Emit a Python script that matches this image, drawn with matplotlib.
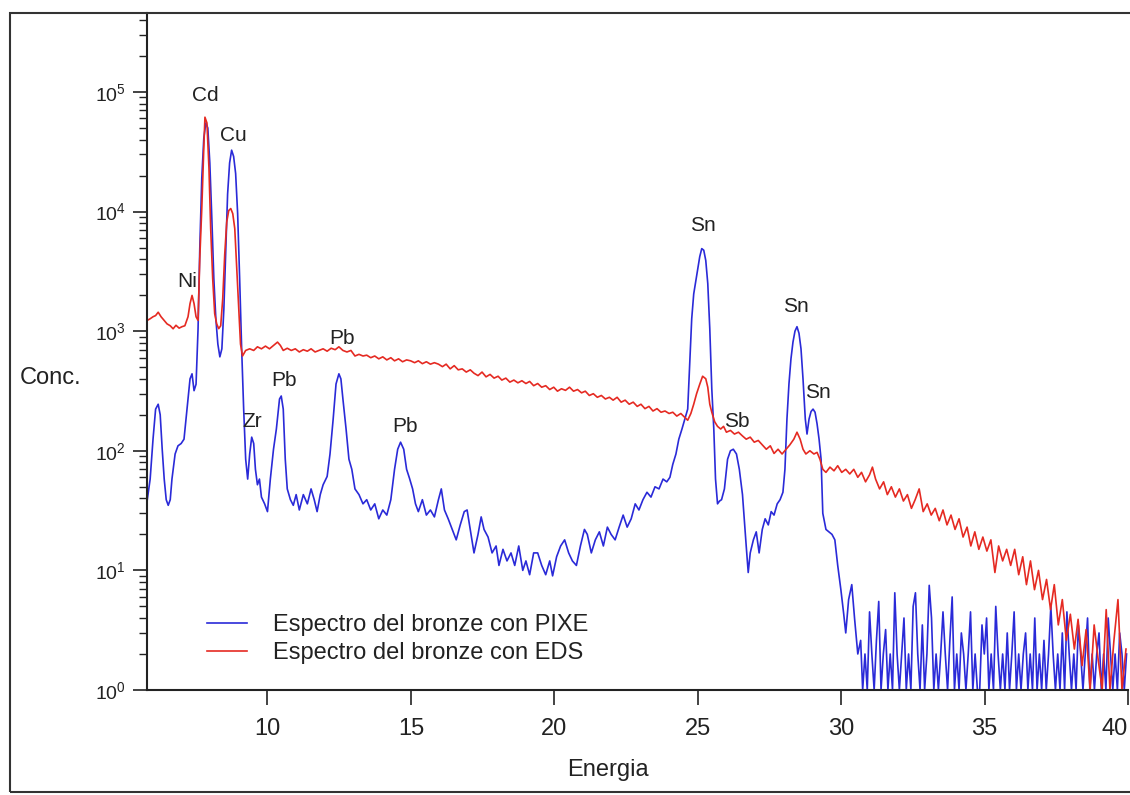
import matplotlib
matplotlib.use("Agg")
import matplotlib.pyplot as plt
from matplotlib.patches import Rectangle
from matplotlib.ticker import LogLocator

plt.rcParams['font.family'] = ['Liberation Sans', 'DejaVu Sans']

# PIXE spectrum (energy in keV, counts)
pixe_e = [5.81, 5.91, 6.01, 6.10, 6.19, 6.26, 6.33, 6.40, 6.47, 6.54, 6.61, 6.67, 6.78, 6.88, 6.99,
          7.09, 7.16, 7.23, 7.30, 7.37, 7.44, 7.51, 7.58, 7.64, 7.71, 7.78, 7.85, 7.92, 7.99, 8.06,
          8.13, 8.20, 8.27, 8.34, 8.41, 8.48, 8.55, 8.61, 8.68, 8.75, 8.82, 8.89, 8.96, 9.03, 9.10,
          9.17, 9.24, 9.31, 9.38, 9.45, 9.52, 9.58, 9.65, 9.72, 9.79, 9.90, 10.00, 10.10, 10.21, 10.31,
          10.42, 10.48, 10.55, 10.62, 10.69, 10.80, 10.90, 11.00, 11.11, 11.25, 11.39, 11.52, 11.63, 11.73, 11.84,
          11.94, 12.08, 12.18, 12.29, 12.39, 12.49, 12.56, 12.63, 12.74, 12.84, 12.94, 13.05, 13.19, 13.33, 13.46,
          13.60, 13.74, 13.88, 14.02, 14.16, 14.30, 14.43, 14.54, 14.64, 14.75, 14.85, 14.95, 15.06, 15.16, 15.26,
          15.40, 15.54, 15.68, 15.82, 15.96, 16.06, 16.17, 16.30, 16.44, 16.58, 16.72, 16.86, 16.96, 17.07, 17.20,
          17.34, 17.45, 17.55, 17.69, 17.83, 17.97, 18.07, 18.21, 18.35, 18.49, 18.62, 18.76, 18.90, 19.01, 19.14,
          19.28, 19.42, 19.56, 19.70, 19.84, 19.94, 20.08, 20.22, 20.36, 20.50, 20.63, 20.77, 20.91, 21.05, 21.15,
          21.29, 21.43, 21.57, 21.71, 21.85, 21.98, 22.12, 22.26, 22.40, 22.54, 22.68, 22.82, 22.95, 23.09, 23.23,
          23.37, 23.51, 23.65, 23.79, 23.92, 24.03, 24.13, 24.24, 24.34, 24.45, 24.55, 24.65, 24.72, 24.79, 24.86,
          24.93, 25.00, 25.07, 25.14, 25.21, 25.28, 25.35, 25.42, 25.49, 25.56, 25.62, 25.69, 25.76, 25.83, 25.93,
          26.04, 26.14, 26.24, 26.35, 26.45, 26.56, 26.62, 26.69, 26.76, 26.83, 26.94, 27.04, 27.14, 27.25, 27.35,
          27.46, 27.56, 27.66, 27.77, 27.87, 27.97, 28.04, 28.11, 28.18, 28.25, 28.32, 28.39, 28.46, 28.53, 28.60,
          28.67, 28.75, 28.81, 28.88, 28.95, 29.02, 29.09, 29.16, 29.23, 29.30, 29.36, 29.47, 29.57, 29.68, 29.78,
          29.88, 29.99, 30.09, 30.16, 30.26, 30.37, 30.47, 30.58, 30.68, 30.75,
          30.83, 30.91, 30.99, 31.07, 31.15, 31.23, 31.31, 31.39, 31.47, 31.55, 31.63, 31.71, 31.79, 31.87, 31.95,
          32.03, 32.11, 32.19, 32.27, 32.35, 32.43, 32.51, 32.59, 32.67, 32.75, 32.83, 32.91, 32.99, 33.07, 33.15,
          33.23, 33.31, 33.39, 33.47, 33.55, 33.63, 33.71, 33.79, 33.87, 33.95, 34.03, 34.11, 34.19, 34.27, 34.35,
          34.43, 34.51, 34.59, 34.67, 34.75, 34.83, 34.91, 34.99, 35.07, 35.15, 35.23, 35.31, 35.39, 35.47, 35.55,
          35.63, 35.71, 35.79, 35.87, 35.95, 36.03, 36.11, 36.19, 36.27, 36.35, 36.43, 36.51, 36.59, 36.67, 36.75,
          36.83, 36.91, 36.99, 37.07, 37.15, 37.23, 37.31, 37.39, 37.47, 37.55, 37.63, 37.71, 37.79, 37.87, 37.95,
          38.03, 38.11, 38.19, 38.27, 38.35, 38.43, 38.51, 38.59, 38.67, 38.75, 38.83, 38.91, 38.99, 39.07, 39.15,
          39.23, 39.31, 39.39, 39.47, 39.55, 39.63, 39.71, 39.79, 39.87, 39.95]
pixe_c = [39, 58, 125, 223, 245, 200, 103, 58, 39, 35, 39, 58, 94, 110, 115,
          125, 184, 271, 399, 440, 318, 360, 1047, 4900, 19000, 41000, 55000, 50000, 25500, 8800,
          2750, 1270, 780, 610, 712, 1540, 4900, 14000, 25500, 32600, 28900, 20800, 9600, 2750, 712,
          223, 85, 58, 94, 130, 115, 70, 52, 58, 41, 36, 31, 58, 103, 152,
          271, 287, 223, 85, 48, 39, 35, 43, 32, 43, 36, 48, 39, 31, 43,
          52, 61, 94, 184, 362, 440, 399, 271, 152, 85, 70, 48, 43, 36, 39,
          32, 36, 27, 32, 29, 39, 70, 103, 118, 103, 70, 59, 48, 36, 31,
          39, 29, 32, 28, 39, 48, 32, 27, 22, 18, 24, 31, 32, 22, 14,
          20, 28, 22, 19, 14, 16, 11, 15, 12, 14, 11, 16, 10, 12, 9.2,
          14, 14, 11, 9.2, 12, 9, 13, 16, 18, 14, 12, 11, 16, 22, 20,
          14, 18, 21, 16, 23, 20, 18, 23, 29, 23, 27, 36, 32, 39, 45,
          41, 50, 48, 58, 55, 60, 77, 94, 125, 152, 184, 223, 530, 1270, 2050,
          2600, 3340, 4200, 4900, 4750, 3900, 2500, 1047, 329, 152, 58, 36, 38, 39, 48,
          85, 100, 103, 94, 70, 43, 27, 16, 9.6, 14, 18, 21, 14, 22, 27,
          24, 31, 29, 36, 39, 45, 70, 184, 362, 587, 810, 1000, 1090, 960, 712,
          399, 184, 138, 184, 213, 223, 210, 168, 125, 85, 30, 22, 21, 20, 18,
          11, 6.9, 4.3, 3.0, 5.7, 7.6, 3.9, 2.0, 2.6, 1.0,
          2.0, 1.0, 4.5, 2.0, 1.0, 2.6, 5.5, 1.0, 2.0, 3.2, 1.0, 2.0, 1.0, 6.5, 2.0,
          1.0, 2.0, 4.0, 1.0, 2.0, 1.0, 5.0, 6.5, 2.0, 1.0, 3.5, 1.0, 2.0, 7.5, 4.0,
          1.0, 2.0, 1.0, 2.0, 4.5, 2.0, 1.0, 2.6, 6.0, 1.0, 2.0, 1.0, 3.0, 2.0, 1.0,
          2.0, 4.5, 1.0, 2.0, 1.0, 1.0, 3.5, 2.0, 4.0, 1.0, 2.0, 1.0, 5.0, 2.0, 1.0,
          2.0, 1.0, 3.0, 1.0, 2.0, 4.5, 1.0, 2.0, 1.0, 2.0, 3.0, 1.0, 2.0, 1.0, 4.0,
          1.0, 2.0, 1.0, 2.6, 1.0, 2.0, 5.0, 2.0, 1.0, 2.0, 1.0, 3.0, 1.0, 4.5, 2.0,
          1.0, 2.0, 1.0, 3.5, 2.0, 1.0, 2.0, 4.0, 1.0, 2.0, 1.0, 2.0, 3.0, 1.0, 2.0,
          1.0, 4.0, 2.0, 1.0, 2.0, 1.0, 3.0, 2.0, 1.0, 2.0]

# EDS spectrum (energy in keV, counts)
eds_e = [5.81, 5.91, 6.01, 6.10, 6.19, 6.29, 6.40, 6.50, 6.61, 6.71, 6.81, 6.92, 7.02, 7.12, 7.23,
         7.30, 7.37, 7.44, 7.51, 7.58, 7.64, 7.71, 7.78, 7.82, 7.89, 7.96, 8.02, 8.09, 8.16, 8.23,
         8.30, 8.37, 8.44, 8.51, 8.58, 8.65, 8.72, 8.79, 8.86, 8.93, 9.00, 9.06, 9.13, 9.24, 9.38,
         9.52, 9.65, 9.79, 9.93, 10.07, 10.21, 10.35, 10.45, 10.55, 10.69, 10.83, 10.97, 11.11, 11.25, 11.39,
         11.52, 11.66, 11.80, 11.94, 12.08, 12.22, 12.36, 12.49, 12.63, 12.77, 12.91, 13.05, 13.19, 13.33, 13.46,
         13.60, 13.74, 13.88, 14.02, 14.16, 14.30, 14.43, 14.57, 14.71, 14.85, 14.99, 15.13, 15.26, 15.40, 15.54,
         15.68, 15.82, 15.96, 16.10, 16.23, 16.37, 16.51, 16.65, 16.79, 16.93, 17.07, 17.20, 17.34, 17.48, 17.62,
         17.76, 17.90, 18.04, 18.17, 18.31, 18.45, 18.59, 18.73, 18.87, 19.01, 19.14, 19.28, 19.42, 19.56, 19.70,
         19.84, 19.98, 20.11, 20.25, 20.39, 20.53, 20.67, 20.81, 20.95, 21.08, 21.22, 21.36, 21.50, 21.64, 21.78,
         21.92, 22.05, 22.19, 22.33, 22.47, 22.61, 22.75, 22.89, 23.02, 23.16, 23.30, 23.44, 23.58, 23.72, 23.86,
         24.00, 24.13, 24.27, 24.41, 24.55, 24.65, 24.76, 24.86, 24.96, 25.07, 25.17, 25.28, 25.35, 25.42, 25.49,
         25.59, 25.69, 25.80, 25.90, 26.00, 26.14, 26.28, 26.42, 26.56, 26.69, 26.83, 26.97, 27.11, 27.25, 27.39,
         27.53, 27.66, 27.80, 27.94, 28.08, 28.21, 28.35, 28.46, 28.57, 28.67, 28.77, 28.91, 29.05, 29.16, 29.26,
         29.36, 29.47, 29.61, 29.75, 29.88, 30.02, 30.16, 30.30, 30.44, 30.58, 30.71, 30.85, 30.99, 31.09, 31.20,
         31.34, 31.48, 31.61, 31.75, 31.89, 32.03, 32.17, 32.31, 32.45, 32.58, 32.72, 32.86, 33.00, 33.14, 33.28,
         33.42, 33.55, 33.69, 33.83, 33.97, 34.11, 34.25, 34.39, 34.52, 34.66, 34.80, 34.94, 35.08, 35.22, 35.36,
         35.49, 35.63, 35.77, 35.91, 36.05, 36.19, 36.33, 36.46, 36.60, 36.74, 36.88, 37.02, 37.16, 37.30, 37.43,
         37.57, 37.71, 37.85, 37.99, 38.13, 38.26, 38.40, 38.54, 38.68, 38.82, 38.96, 39.10, 39.24, 39.37, 39.51,
         39.65, 39.79, 39.93]
eds_c = [1230, 1270, 1320, 1350, 1440, 1320, 1230, 1150, 1110, 1047, 1120, 1060, 1090, 1110, 1320,
         1700, 1990, 1700, 1320, 1230, 4050, 10600, 33900, 61500, 55000, 23000, 7200, 2750, 1400, 1150,
         1050, 1110, 1870, 4400, 8200, 10200, 10600, 9600, 7200, 3340, 1540, 780, 620, 690, 712,
         690, 740, 712, 750, 712, 760, 810, 760, 690, 720, 690, 712, 670, 700, 680,
         712, 670, 690, 712, 680, 720, 700, 740, 690, 670, 690, 620, 640, 620, 630,
         600, 620, 587, 610, 575, 600, 565, 587, 555, 575, 565, 545, 565, 535, 555,
         530, 545, 530, 505, 530, 484, 515, 475, 484, 455, 475, 445, 425, 455, 415,
         435, 405, 420, 390, 405, 375, 390, 370, 385, 365, 380, 350, 365, 340, 350,
         325, 340, 315, 330, 320, 340, 315, 325, 305, 315, 290, 300, 280, 290, 271,
         280, 265, 280, 255, 265, 245, 255, 235, 245, 225, 235, 215, 225, 210, 215,
         205, 210, 195, 205, 190, 180, 205, 245, 300, 360, 420, 400, 340, 245, 210,
         175, 160, 152, 160, 143, 148, 138, 143, 133, 125, 130, 118, 122, 112, 103,
         110, 95, 103, 94, 103, 112, 125, 143, 125, 103, 94, 100, 94, 97, 85,
         70, 66, 73, 68, 75, 66, 70, 64, 70, 60, 66, 55, 63, 73, 58,
         48, 55, 43, 50, 41, 48, 38, 43, 33, 39, 48, 31, 36, 29, 33,
         26, 32, 24, 29, 22, 27, 19, 23, 16, 21, 15, 19, 14.5, 18, 9.6,
         16, 12, 15, 11, 15, 9.2, 13, 7.6, 12, 6.9, 10, 5.7, 8.4, 4.7, 7.6,
         3.5, 5.7, 2.6, 4.3, 2.2, 3.9, 1.6, 3.2, 1.0, 3.5, 1.8, 1.0, 4.7, 1.0, 2.6,
         5.7, 1.0, 2.2]

# peak labels
peak_names = ['Cd', 'Cu', 'Ni', 'Pb', 'Pb', 'Zr', 'Pb', 'Sn', 'Sn', 'Sn', 'Sb']
peak_e = [7.82, 8.82, 7.19, 12.60, 10.59, 9.45, 14.81, 25.17, 28.43, 29.19, 26.35]
peak_c = [94000, 43600, 2600, 864, 384, 177, 161, 7660, 1600, 310, 177]

x_ticks = [10, 15, 20, 25, 30, 35, 40]

W, H = 1130, 795
fig = plt.figure(figsize=(W / 100, H / 100), dpi=100)
ax = fig.add_axes([147 / W, 1 - 690 / H, (1128 - 147) / W, (690 - 13) / H])

ax.plot(pixe_e, pixe_c, color='#2a2ad8', lw=1.2, label='Espectro del bronze con PIXE')
ax.plot(eds_e, eds_c, color='#e52a22', lw=1.2, label='Espectro del bronze con EDS')

ax.set_yscale('log')
ax.set_xlim(5.8, 40)
ax.set_ylim(1, 10 ** 5.66)
ax.set_xticks(x_ticks, [str(t) for t in x_ticks])
ax.yaxis.set_major_locator(LogLocator(base=10, numticks=10))
ax.yaxis.set_minor_locator(LogLocator(base=10, subs=range(2, 10), numticks=20))

for s in ['top', 'right']:
    ax.spines[s].set_visible(False)
for s in ['left', 'bottom']:
    ax.spines[s].set_linewidth(1.5)
    ax.spines[s].set_color('#222222')

ax.tick_params(axis='x', which='major', length=11, width=1.2, pad=9,
               labelsize=17, colors='#222222')
ax.tick_params(axis='y', which='major', length=10, width=1.2, pad=5,
               labelsize=14, colors='#222222')
ax.tick_params(axis='y', which='minor', length=6, width=1.0, colors='#222222')
# last label sits at the right edge, keep it inside
ax.xaxis.get_major_ticks()[-1].label1.set_horizontalalignment('right')

for name, e, c in zip(peak_names, peak_e, peak_c):
    ax.text(e, c, name, fontsize=15, color='#222222', ha='center', va='center')

leg = ax.legend(loc='upper left', bbox_to_anchor=(207 / W, 1 - 614 / H),
                bbox_transform=fig.transFigure, frameon=False, fontsize=17,
                handlelength=1.7, handletextpad=1.1, labelspacing=0.25,
                borderpad=0, borderaxespad=0)
for t in leg.get_texts():
    t.set_color('#222222')

fig.text(20 / W, 1 - 378 / H, 'Conc.', fontsize=17, color='#222222', ha='left', va='center')
fig.text(608 / W, 1 - 770 / H, 'Energia', fontsize=17, color='#222222', ha='center', va='center')

fig.patches.append(Rectangle((10 / W, 1 - 792 / H), 1.1, (792 - 13) / H,
                             transform=fig.transFigure, fill=False,
                             edgecolor='#333333', lw=1.5))

fig.savefig('out.png', dpi=100)
